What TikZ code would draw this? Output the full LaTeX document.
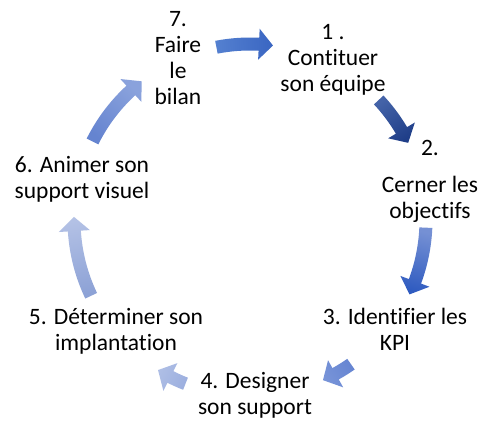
\documentclass[tikz,border=0pt]{standalone}
\usepackage{fontspec}
\setmainfont{Carlito}[Ligatures={NoCommon}]
\newcommand{\cycarrow}[4]{%
  \pgfmathsetmacro{\cyA}{-(#1)}%
  \pgfmathsetmacro{\cyB}{-(#2)}%
  \pgfmathsetmacro{\cyH}{\cyB+4.6}%
  \pgfmathsetmacro{\cyS}{(\cyA+\cyB)/2-180}%
  \shade[top color=#4, bottom color=#3, shading angle=\cyS]
    (\cyA:182.5) arc[start angle=\cyA, end angle=\cyH, radius=182.5]
    -- (\cyH:191.5) -- (\cyB:176) -- (\cyH:160.5) -- (\cyH:169.5)
    arc[start angle=\cyH, end angle=\cyA, radius=169.5] -- cycle;
}
\begin{document}
\begin{tikzpicture}[x=1pt,y=1pt,
  lbl/.style={font=\fontsize{23.5}{26}\selectfont, align=center, anchor=base, inner sep=0pt, text=black}]
\useasboundingbox (0,0) rectangle (480,421);
\fill[white] (0,0) rectangle (480,421);
\definecolor{aA}{HTML}{5480D0}\definecolor{aAh}{HTML}{3A66C2}
\definecolor{aB}{HTML}{4463A8}\definecolor{aBh}{HTML}{1F3E88}
\definecolor{aC}{HTML}{7590D4}\definecolor{aCh}{HTML}{2F5BC0}
\definecolor{aD}{HTML}{6685D2}\definecolor{aDh}{HTML}{7894D8}
\definecolor{aE}{HTML}{9CAFDF}\definecolor{aEh}{HTML}{AEBEE5}
\definecolor{aF}{HTML}{8DA2D6}\definecolor{aFh}{HTML}{B3C1E5}
\definecolor{aG}{HTML}{6584D0}\definecolor{aGh}{HTML}{8AA2DC}
\begin{scope}[shift={(250,201)}]
  \cycarrow{-101}{-82.5}{aA}{aAh}
  \cycarrow{-43}{-26}{aB}{aBh}
  \cycarrow{2.5}{25}{aC}{aCh}
  \cycarrow{55}{65.5}{aD}{aDh}
  \cycarrow{111.5}{121.5}{aE}{aEh}
  \cycarrow{154.5}{181}{aF}{aFh}
  \cycarrow{206.5}{232}{aG}{aGh}
\end{scope}
\node[lbl] (n7) at (178,316) {7.\\Faire\\le\\bilan};
\node[lbl] (n1) at (333,329) {1 .\\Contituer\\son équipe};
\node[lbl] (n2) at (430,202) {2.\\[11pt]Cerner les\\objectifs};
\node[lbl] (n3) at (395,70) {3. Identifier les\\KPI};
\node[lbl] (n4) at (255,6) {4. Designer\\son support};
\node[lbl] (n5) at (116,70) {5. Déterminer son\\implantation};
\node[lbl] (n6) at (82,222) {6. Animer son\\support visuel};
\end{tikzpicture}
\end{document}
